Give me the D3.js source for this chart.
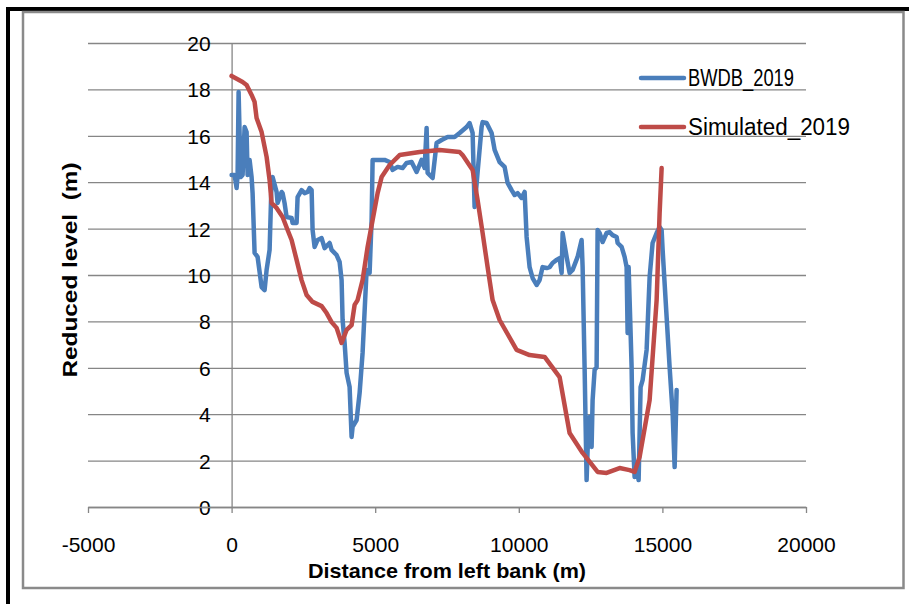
<!DOCTYPE html>
<html>
<head>
<meta charset="utf-8">
<script src="https://cdn.jsdelivr.net/npm/d3@7"></script>
<style>
  html, body { margin: 0; padding: 0; background: #fff; }
  svg { display: block; }
  text { font-family: "Liberation Sans", Arial, sans-serif; fill: #000; }
</style>
</head>
<body>
<svg id="chart" width="909" height="604"></svg>
<script>
// Cross-section profile: surveyed vs simulated bed level
const xTickValues = [-5000, 0, 5000, 10000, 15000, 20000];
const yTickValues = [0, 2, 4, 6, 8, 10, 12, 14, 16, 18, 20];
const seriesNames = ["BWDB_2019", "Simulated_2019"];

// BWDB_2019 surveyed section
const bwdbDistance = [0, 104, 174, 209, 244, 313, 383, 453, 522, 557, 627, 696, 731, 801, 905, 1045, 1149, 1219, 1323, 1393,
  1428, 1567, 1602, 1741, 1776, 1845, 1915, 2089, 2124, 2263, 2298, 2437, 2542, 2646, 2716, 2786, 2820, 2890, 2995, 3134,
  3238, 3412, 3482, 3656, 3761, 3830, 3865, 3935, 4004, 4109, 4178, 4213, 4353, 4457, 4561, 4701, 4805, 4875, 4910, 5084,
  5327, 5502, 5606, 5780, 5954, 6094, 6268, 6442, 6616, 6720, 6790, 6825, 6999, 7138, 7312, 7521, 7765, 7939, 8183, 8287,
  8392, 8461, 8566, 8705, 8740, 8879, 9053, 9158, 9332, 9506, 9610, 9750, 9854, 9959, 10098, 10203, 10272, 10376, 10481, 10620,
  10725, 10829, 10968, 11073, 11177, 11317, 11421, 11491, 11526, 11665, 11769, 11874, 12048, 12187, 12222, 12291, 12361, 12396, 12466, 12535,
  12570, 12640, 12709, 12744, 12814, 12918, 13058, 13162, 13266, 13406, 13441, 13580, 13684, 13754, 13789, 13824, 13893, 13928, 13963, 14033,
  14102, 14172, 14241, 14311, 14450, 14555, 14659, 14799, 14903, 14973, 15008, 15147, 15251, 15356, 15426, 15495];
const bwdbLevel = [14.31, 14.31, 13.75, 14.31, 17.89, 14.22, 14.31, 16.38, 16.16, 14.31, 14.96, 14.22, 13.53, 10.95, 10.78, 9.48, 9.35, 10.22, 11.08, 14.09,
  14.22, 13.58, 13.10, 13.58, 13.53, 13.10, 12.50, 12.46, 12.24, 12.24, 13.36, 13.66, 13.53, 13.58, 13.75, 13.66, 11.94, 11.21, 11.51, 11.59,
  11.16, 11.38, 11.08, 10.86, 10.56, 9.78, 8.06, 7.07, 5.78, 5.17, 3.02, 3.45, 3.75, 4.91, 6.64, 10.22, 10.09, 12.37, 14.96, 14.96,
  14.96, 14.87, 14.53, 14.66, 14.61, 14.83, 14.87, 14.44, 14.96, 14.61, 16.34, 14.40, 14.18, 15.69, 15.82, 15.95, 15.95, 16.12, 16.38, 16.55,
  16.12, 12.93, 14.44, 16.38, 16.59, 16.55, 16.12, 15.39, 14.87, 14.66, 13.97, 13.66, 13.45, 13.53, 13.32, 13.58, 11.64, 10.34, 9.87, 9.57,
  9.78, 10.34, 10.30, 10.34, 10.52, 10.65, 10.73, 10.09, 11.81, 10.78, 10.09, 10.22, 10.78, 11.51, 10.34, 6.03, 1.16, 2.46, 3.88, 2.59,
  4.61, 5.91, 6.03, 11.94, 11.81, 11.42, 11.81, 11.85, 11.72, 11.64, 11.38, 11.21, 10.78, 10.34, 7.50, 10.34, 7.50, 6.03, 3.19, 1.29,
  1.72, 1.16, 5.17, 5.47, 6.77, 9.91, 11.38, 11.81, 12.07, 11.94, 11.08, 8.19, 6.03, 4.05, 1.72, 5.04];

// Simulated_2019 section
const simDistance = [0, 383, 522, 696, 801, 870, 1045, 1219, 1323, 1393, 1567, 1776, 1950, 2089, 2263, 2437, 2612, 2820, 3134, 3308,
  3482, 3656, 3830, 4004, 4178, 4283, 4387, 4561, 4736, 4910, 5084, 5223, 5502, 5850, 6546, 7243, 7939, 8043, 8392, 8566,
  8740, 8914, 9088, 9332, 9924, 10376, 10899, 11421, 11769, 12222, 12744, 13058, 13510, 13858, 14033, 14207, 14555, 14799, 14903, 14973];
const simLevel = [18.58, 18.32, 18.19, 17.76, 17.46, 16.77, 16.16, 15.09, 14.09, 13.10, 12.89, 12.50, 11.94, 11.51, 10.65, 9.78, 9.14, 8.84, 8.66, 8.36,
  7.97, 7.72, 7.07, 7.63, 7.84, 8.71, 8.92, 9.78, 11.21, 12.37, 13.53, 14.22, 14.74, 15.17, 15.30, 15.39, 15.30, 15.17, 14.53, 13.23,
  11.81, 10.34, 8.92, 8.06, 6.77, 6.55, 6.47, 5.60, 3.19, 2.33, 1.51, 1.47, 1.68, 1.59, 1.51, 2.16, 4.61, 8.92, 12.67, 14.61];

const colors = { bwdb: "#4A7EBB", sim: "#BE4B48", grid: "#868686" };

const svg = d3.select("#chart");

// outer frame
svg.append("rect").attr("x", 6).attr("y", 7).attr("width", 903).attr("height", 4).attr("fill", "#000");
svg.append("rect").attr("x", 6).attr("y", 7).attr("width", 4).attr("height", 597).attr("fill", "#000");
svg.append("rect").attr("x", 23).attr("y", 12).attr("width", 880.5).attr("height", 576)
  .attr("fill", "none").attr("stroke", "#8a8a8a").attr("stroke-width", 2.5);

const plot = { left: 88, right: 806, top: 43, bottom: 507 };
const x = d3.scaleLinear().domain([-5000, 20000]).range([plot.left, plot.right]);
const y = d3.scaleLinear().domain([0, 20]).range([plot.bottom, plot.top]);

// plain integer labels with an ASCII hyphen for negatives
const plainNumber = d => String(d);

// horizontal gridlines
const grid = svg.append("g")
  .attr("transform", `translate(${plot.right},0)`)
  .call(d3.axisLeft(y).tickValues(yTickValues).tickSize(plot.right - plot.left).tickFormat(""));
grid.select(".domain").remove();
grid.selectAll("line").attr("stroke", colors.grid).attr("stroke-width", 1.3);

// y axis (crosses at x = 0)
const yAxis = svg.append("g")
  .attr("transform", `translate(${x(0)},0)`)
  .call(d3.axisLeft(y).tickValues(yTickValues).tickFormat(plainNumber)
    .tickSize(0).tickPadding(21).tickSizeOuter(0));
yAxis.select(".domain").attr("stroke", colors.grid).attr("stroke-width", 1.3);
yAxis.selectAll("text").style("font-size", "21px").attr("dy", "0.36em");

// x axis
const xAxis = svg.append("g")
  .attr("transform", `translate(0,${plot.bottom})`)
  .call(d3.axisBottom(x).tickValues(xTickValues).tickFormat(plainNumber)
    .tickSize(6).tickPadding(24).tickSizeOuter(0));
xAxis.select(".domain").attr("stroke", colors.grid).attr("stroke-width", 1.3);
xAxis.selectAll("line").attr("stroke", colors.grid).attr("stroke-width", 1.3);
xAxis.selectAll("text").style("font-size", "21px");

// axis titles
svg.append("text")
  .attr("x", (plot.left + plot.right) / 2).attr("y", 578)
  .attr("text-anchor", "middle")
  .attr("textLength", 278).attr("lengthAdjust", "spacingAndGlyphs")
  .style("font-size", "21px").style("font-weight", "bold")
  .text("Distance from left bank (m)");

svg.append("text")
  .attr("transform", `translate(77,${(plot.top + plot.bottom) / 2 - 5}) rotate(-90)`)
  .attr("text-anchor", "middle")
  .attr("textLength", 215).attr("lengthAdjust", "spacingAndGlyphs")
  .style("font-size", "21px").style("font-weight", "bold")
  .style("white-space", "pre")
  .text("Reduced level  (m)");

// series lines
const line = d3.line().x(d => x(d[0])).y(d => y(d[1]));

svg.append("path")
  .datum(d3.zip(bwdbDistance, bwdbLevel))
  .attr("fill", "none").attr("stroke", colors.bwdb).attr("stroke-width", 4.5)
  .attr("stroke-linejoin", "round").attr("stroke-linecap", "round")
  .attr("d", line);

svg.append("path")
  .datum(d3.zip(simDistance, simLevel))
  .attr("fill", "none").attr("stroke", colors.sim).attr("stroke-width", 4.5)
  .attr("stroke-linejoin", "round").attr("stroke-linecap", "round")
  .attr("d", line);

// legend
const legendItems = [
  { name: seriesNames[0], color: colors.bwdb, cy: 78, width: 106 },
  { name: seriesNames[1], color: colors.sim, cy: 127, width: 162 }
];
const legend = svg.append("g");
legendItems.forEach(item => {
  legend.append("line")
    .attr("x1", 641).attr("x2", 684).attr("y1", item.cy).attr("y2", item.cy)
    .attr("stroke", item.color).attr("stroke-width", 4.5).attr("stroke-linecap", "round");
  legend.append("text")
    .attr("x", 688).attr("y", item.cy + 8)
    .attr("textLength", item.width).attr("lengthAdjust", "spacingAndGlyphs")
    .style("font-size", "23px")
    .text(item.name);
});
</script>
</body>
</html>
